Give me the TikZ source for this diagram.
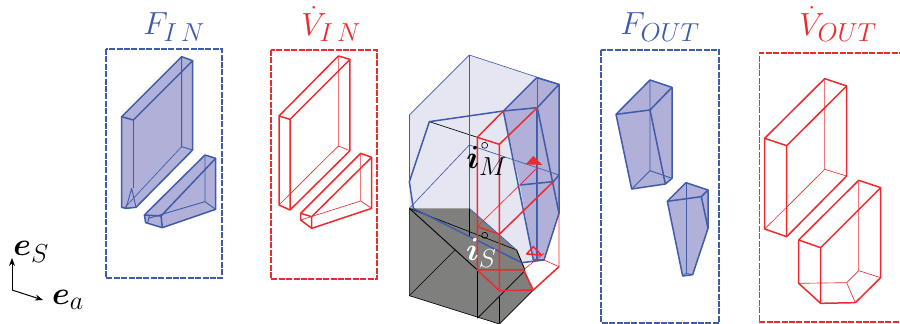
\RequirePackage{fix-cm}
\documentclass[tikz,border=0pt]{standalone}
\usepackage{amsmath,amssymb}
\usetikzlibrary{arrows.meta}
\DeclareMathSizes{32}{32}{26}{20}
\definecolor{bl}{HTML}{3F5BA9}
\definecolor{bfill}{HTML}{B0B0D8}
\definecolor{bpale}{HTML}{E6E6F3}
\definecolor{rd}{HTML}{EE2A2E}
\definecolor{gy}{HTML}{7F7F7D}
\tikzset{
 tk/.style={line width=1.5pt,line join=round},
 tn/.style={line width=0.65pt},
 md/.style={line width=0.9pt},
 fbox/.style={draw=bl,dashed,dash pattern=on 6pt off 1.4pt,line width=1.2pt},
 vbox/.style={draw=rd,dashed,dash pattern=on 6pt off 1.4pt,line width=1.2pt},
 ttl/.style={inner sep=0pt,font=\fontsize{32}{36}\selectfont},
 axarrow/.style={-{Stealth[length=8pt,width=6pt]},line width=1pt}
}
\begin{document}
\begin{tikzpicture}[x=1pt,y=-1pt]
\useasboundingbox (0,0) rectangle (900,324);
% titles
\node[ttl,text=bl] (tfin) at (174,27) {$F_{I\,N}$};
\node[ttl,text=rd] (tvin) at (331,24) {$\dot V_{I\,N}$};
\node[ttl,text=bl] (tfout) at (660,27) {$F_{OUT}$};
\node[ttl,text=rd] (tvout) at (838,24) {$\dot V_{OUT}$};
% boxes
\draw[fbox] (106,49) rectangle (222,278);
\draw[vbox] (271,50) rectangle (377,279);
\draw[fbox] (601,50) rectangle (719,323);
\draw[vbox] (905,53) -- (759.5,53) -- (759.5,322) -- (905,322);
% F_IN
\begin{scope}[shift={(100pt,0pt)},x=0.33333pt,y=-0.33333pt]
\fill[bfill] (65,350)--(245,170)--(278,182)--(278,450)--(108,622)--(78,625)--(65,622)--cycle;
\fill[bfill] (133,645)--(315,465)--(347,475)--(347,628)--(187,683)--(137,668)--cycle;
\draw[md,bl] (245,170)--(245,440)--(278,450);
\draw[tn,bl] (245,440)--(75,622);
\draw[md,bl] (95,565)--(78,625) (95,565)--(108,622);
\draw[tk,bl] (65,350)--(245,170)--(278,182)--(278,450)--(108,622)--(78,625)--(65,622)--cycle;
\draw[tk,bl] (65,350)--(100,360)--(278,182);
\draw[tk,bl] (100,360)--(100,565);
\draw[md,bl] (315,465)--(315,605)--(347,628) (315,605)--(145,655);
\draw[tk,bl] (133,645)--(315,465)--(347,475)--(347,628)--(187,683)--(137,668)--cycle;
\draw[tk,bl] (133,645)--(183,648)--(347,475) (183,648)--(187,683);
\draw[md,bl] (148,648)--(143,670);
\end{scope}
% V_IN
\begin{scope}[shift={(100pt,0pt)},x=0.33333pt,y=-0.33333pt]
\draw[tn,rd] (715,168)--(715,438)--(750,452) (715,438)--(537,615);
\draw[tk,rd] (537,348)--(715,168)--(750,178)--(750,452)--(570,630)--(537,615)--cycle;
\draw[tk,rd] (537,348)--(570,358)--(750,178) (570,358)--(570,630);
\draw[tn,rd] (782,460)--(782,603)--(815,625) (782,603)--(602,660);
\draw[tk,rd] (602,640)--(782,460)--(815,472)--(815,625)--(635,685)--(602,660)--cycle;
\draw[tk,rd] (602,640)--(635,650)--(815,472) (635,650)--(635,685);
\end{scope}
% centre
\begin{scope}[shift={(400pt,-40pt)},x=0.33333pt,y=-0.33333pt]
\fill[bpale] (28,225)--(208,45)--(477,133)--(477,520)--(432,660)--(365,668)--(28,505)--cycle;
\fill[bfill] (310,213)--(410,113)--(477,133)--(477,520)--(432,660)--(400,660)--(360,435)--cycle;
\fill[gy] (28,505)--(208,505)--(350,630)--(375,690)--(400,750)--(298,852)--(28,767)--cycle;
% black thin
\draw[tn,black] (88,245)--(232,292);
\draw[tn,black] (28,505)--(350,630);
\draw[tn,black] (28,505)--(28,767)--(298,852)--(400,750);
\draw[tn,black] (28,767)--(165,630);
\draw[tn,black] (232,690)--(232,835);
\draw[tn,black] (298,770)--(298,852);
\draw[tn,black] (232,835)--(375,692);
\draw[tn,black] (208,505)--(208,590);
\draw[md,black] (28,505)--(232,690);
\draw[md,black] (350,630)--(375,690);
% blue thin
\draw[tn,bl] (28,225)--(208,45)--(477,133);
\draw[tn,bl] (208,45)--(208,505);
\draw[tn,bl] (28,225)--(28,425);
\draw[tn,bl] (208,315)--(477,405);
\draw[tn,bl] (28,505)--(208,315);
\draw[tn,bl] (360,435)--(410,385);
\draw[tn,bl] (410,203)--(410,660);
\draw[tn,bl] (208,505)--(350,630);
% blue thick
\draw[tk,bl] (28,425)--(88,245)--(310,213)--(412,203)--(477,133)--(477,520)--(432,660)--(365,668)--(40,505)--(28,425);
\draw[tk,bl] (310,213)--(410,113)--(477,133);
\draw[tk,bl] (412,203)--(477,520);
\draw[tk,bl] (310,213)--(400,660)--(432,660);
\draw[tk,bl] (360,435)--(460,425)--(477,405);
% red
\draw[tn,rd] (232,560)--(410,385);
\draw[tn,rd] (412,113)--(412,660);
\draw[tn,rd] (477,520)--(477,680)--(432,660);
\draw[tn,rd] (370,690)--(432,640);
\draw[tk,rd] (232,292)--(298,313)--(298,752)--(232,690)--cycle;
\draw[tk,rd] (298,313)--(412,203) (232,292)--(310,213);
\draw[tk,rd] (232,560)--(298,583)--(460,425);
\draw[tk,rd] (232,690)--(370,690)--(400,750)--(298,752);
\draw[tk,rd] (400,750)--(477,680);
\fill[rd] (377,373)--(400,348)--(427,375)--cycle;
\draw[tk,rd] (380,642)--(400,620)--(424,645)--cycle;
\draw[line width=.6pt,black] (254,316) circle (9);
\draw[line width=.6pt,black] (254,586) circle (9);
\node[inner sep=0pt,font=\fontsize{32}{36}\selectfont] (iM) at (260,362) {$\boldsymbol i_{M}$};
\node[inner sep=0pt,font=\fontsize{32}{36}\selectfont,text=white] (iS) at (244,638) {$\boldsymbol i_{S}$};
\end{scope}
% F_OUT
\begin{scope}[shift={(590pt,0pt)},x=0.33333pt,y=-0.33333pt]
\fill[bfill] (78,343)--(180,240)--(246,262)--(246,535)--(226,552)--(125,567)--cycle;
\fill[bfill] (232,604)--(288,548)--(354,570)--(354,685)--(308,824)--(278,828)--cycle;
\draw[md,bl] (180,240)--(180,512)--(125,567) (180,512)--(246,535);
\draw[tk,bl] (78,343)--(180,240)--(246,262)--(246,535)--(226,552)--(125,567)--cycle;
\draw[tk,bl] (78,343)--(180,330)--(246,262) (180,330)--(226,552);
\draw[md,bl] (288,548)--(288,820);
\draw[tk,bl] (232,604)--(288,548)--(354,570)--(354,685)--(308,824)--(278,828)--cycle;
\draw[tk,bl] (232,604)--(334,590)--(354,570) (334,590)--(354,685);
\draw[tn,bl] (278,828)--(288,820)--(308,824);
% V_OUT
\draw[tn,rd] (704,236)--(704,508)--(770,528) (704,508)--(524,687);
\draw[tk,rd] (524,415)--(704,236)--(770,258)--(770,528)--(590,710)--(524,687)--cycle;
\draw[tk,rd] (524,415)--(590,437)--(770,258) (590,437)--(590,710);
\draw[tn,rd] (806,541)--(806,812)--(872,833) (806,812)--(770,848)--(796,908) (770,848)--(626,850);
\draw[tk,rd] (626,720)--(806,541)--(872,563)--(872,833)--(796,908)--(692,910)--(626,850)--cycle;
\draw[tk,rd] (626,720)--(692,743)--(872,563) (692,743)--(692,910);
\end{scope}
% axes
\coordinate (o) at (12,290);
\coordinate (ey) at (12,258);
\coordinate (ex) at (43,300);
\draw[axarrow] (o)--(ey);
\draw[axarrow] (o)--(ex);
\node[inner sep=0pt,font=\fontsize{32}{36}\selectfont] (es) at (31,252) {$\boldsymbol e_{S}$};
\node[inner sep=0pt,font=\fontsize{32}{36}\selectfont] (ea) at (68,300) {$\boldsymbol e_{a}$};
\end{tikzpicture}
\end{document}
